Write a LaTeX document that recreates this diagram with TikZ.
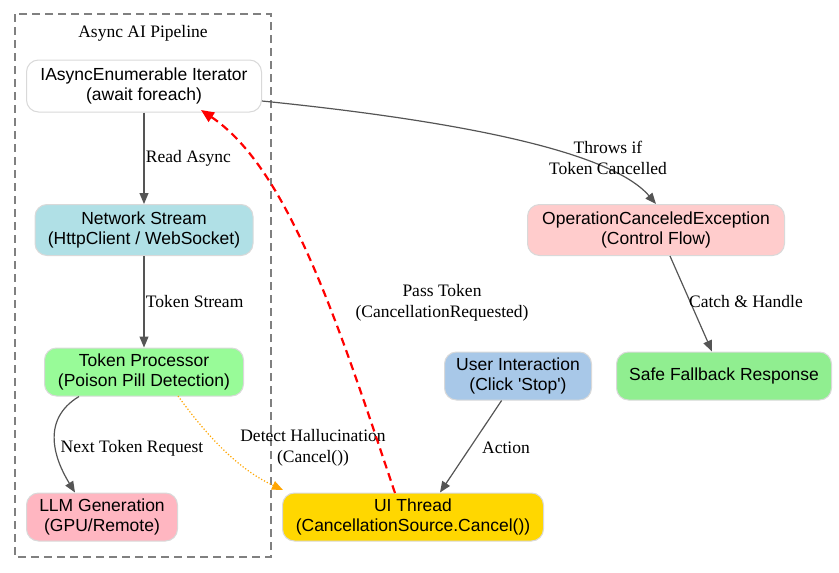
\documentclass[tikz,border=0pt]{standalone}
\usepackage{fontspec}
\setmainfont{Liberation Serif}
\newfontfamily\nodefont{Liberation Sans}
\usetikzlibrary{arrows.meta}
\definecolor{edge}{HTML}{555555}
\begin{document}
\begin{tikzpicture}[x=1pt,y=-1pt,
  box/.style={draw=black!15,rounded corners=12pt,align=center,font=\nodefont\fontsize{17.5}{20}\selectfont,inner sep=0pt,line width=1pt},
  conn/.style={-{Triangle[length=11pt,width=9pt]},draw=edge,fill=none,line width=1.2pt},
  lab/.style={font=\fontsize{17.5}{21}\selectfont,align=center}]
\useasboundingbox (0,0) rectangle (839,573);
\draw[dash pattern=on 8pt off 5pt,gray,line width=1.2pt] (15,14) rectangle (271,557);
\node[lab] (cl) at (143,33) {Async AI Pipeline};
\node[box,fill=white,minimum width=235pt,minimum height=52pt] (it) at (144,86) {IAsyncEnumerable Iterator\\(await foreach)};
\node[box,fill={rgb,255:red,176;green,224;blue,230},minimum width=218pt,minimum height=51pt] (ns) at (144,230) {Network Stream\\(HttpClient / WebSocket)};
\node[box,fill={rgb,255:red,152;green,251;blue,152},minimum width=199pt,minimum height=48pt] (tp) at (144,372) {Token Processor\\(Poison Pill Detection)};
\node[box,fill={rgb,255:red,255;green,182;blue,193},minimum width=151pt,minimum height=48pt] (llm) at (102,517) {LLM Generation\\(GPU/Remote)};
\node[box,fill={rgb,255:red,255;green,215;blue,0},minimum width=261pt,minimum height=48pt] (ui) at (413,517) {UI Thread\\(CancellationSource.Cancel())};
\node[box,fill={rgb,255:red,168;green,200;blue,232},minimum width=147pt,minimum height=48pt] (us) at (518,376) {User Interaction\\(Click 'Stop')};
\node[box,fill={rgb,255:red,255;green,204;blue,204},minimum width=257pt,minimum height=51pt] (oc) at (656,230) {OperationCanceledException\\(Control Flow)};
\node[box,fill={rgb,255:red,144;green,238;blue,144},minimum width=215pt,minimum height=48pt] (sf) at (724,376) {Safe Fallback Response};

\draw[conn] (it) -- node[lab,right,xshift=-2pt,pos=0.5]{Read Async} (ns);
\draw[conn] (ns) -- node[lab,right,xshift=-2pt]{Token Stream} (tp);
\draw[conn] (tp.south west)++(35,0) .. controls (40,420) and (55,460) .. (llm.north -| 75,0);
\node[lab] (l1) at (132,448) {Next Token Request};
\draw[-{Triangle[length=11pt,width=9pt,fill={rgb,255:red,255;green,165;blue,0}]},draw={rgb,255:red,255;green,165;blue,0},dotted,line width=1.2pt] (178,396) .. controls (210,440) and (240,470) .. (283,490);
\node[lab] (l2) at (313,448) {Detect Hallucination\\(Cancel())};
\draw[-{Triangle[length=13pt,width=11pt,fill=red]},draw=red,dash pattern=on 8pt off 5pt,line width=2.2pt] (395,493) .. controls (340,330) and (290,170) .. (201,110);
\node[lab] (l3) at (442,303) {Pass Token\\(CancellationRequested)};
\draw[conn] (us) -- (ui.north -| 440,0);
\node[lab] (l4) at (506,448) {Action};
\draw[conn] (262,101) .. controls (450,120) and (610,150) .. (oc.north);
\node[lab] (l5) at (608,158) {Throws if\\Token Cancelled};
\draw[conn] (oc.south -| 670,0) -- (sf.north -| 712,0);
\node[lab] (l6) at (746,302) {Catch \& Handle};
\end{tikzpicture}
\end{document}
